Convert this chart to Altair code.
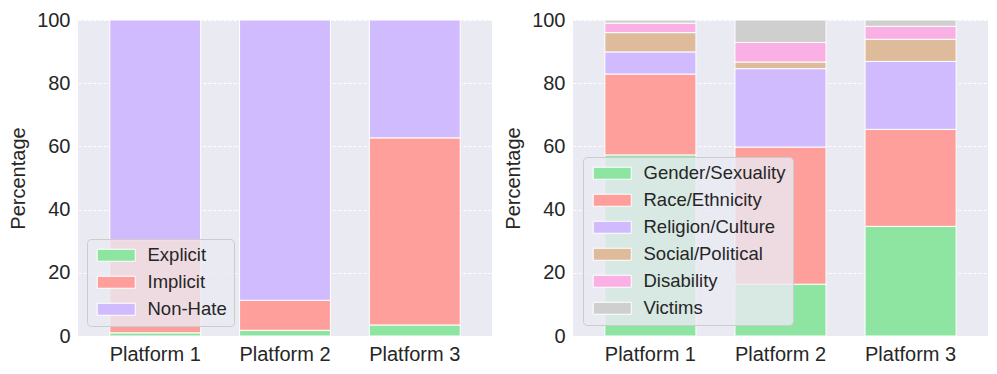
import altair as alt
import pandas as pd

platforms = ["Platform 1", "Platform 2", "Platform 3"]

# Left chart: hate type share
hate_types = ["Explicit", "Implicit", "Non-Hate"]
explicit = [1.0, 1.8, 3.5]
implicit = [29.5, 9.5, 59.2]
non_hate = [69.5, 88.7, 37.3]
hate_colors = ["#8de5a1", "#ff9f9b", "#d0bbff"]

# Right chart: target categories
targets = ["Gender/Sexuality", "Race/Ethnicity", "Religion/Culture",
           "Social/Political", "Disability", "Victims"]
gender = [57.3, 16.4, 34.7]
race = [25.6, 43.4, 30.7]
religion = [7.0, 24.8, 21.5]
social = [6.1, 2.1, 7.0]
disability = [3.0, 6.2, 4.1]
victims = [1.0, 7.1, 2.0]
target_colors = ["#8de5a1", "#ff9f9b", "#d0bbff", "#debb9b", "#fab0e4", "#cfcfcf"]

FONT = "Liberation Sans"
TXT = "#262626"

left_rows = []
for k, (name, vals) in enumerate(zip(hate_types, [explicit, implicit, non_hate])):
    for p, v in zip(platforms, vals):
        left_rows.append({"platform": p, "type": name, "value": v, "ord": k})
left_df = pd.DataFrame(left_rows)

right_rows = []
for k, (name, vals) in enumerate(zip(targets, [gender, race, religion, social, disability, victims])):
    for p, v in zip(platforms, vals):
        right_rows.append({"platform": p, "type": name, "value": v, "ord": k})
right_df = pd.DataFrame(right_rows)

# 38 x 12 px rectangle swatch with a nominal symbol size of 12 px
SYMBOL = "M-3.17,-1L3.17,-1L3.17,1L-3.17,1Z"


def panel(df, domain, colors, lx, ly, w):
    return alt.Chart(df).mark_bar(stroke="white", strokeWidth=1).encode(
        x=alt.X("platform:N", sort=platforms,
                scale=alt.Scale(paddingInner=0.3, paddingOuter=0.245),
                axis=alt.Axis(title=None, labelAngle=0, grid=False)),
        y=alt.Y("value:Q", stack="zero",
                scale=alt.Scale(domain=[0, 100], nice=False),
                axis=alt.Axis(title="Percentage", values=[0, 20, 40, 60, 80, 100])),
        color=alt.Color("type:N", sort=domain,
                        scale=alt.Scale(domain=domain, range=colors),
                        legend=alt.Legend(title=None, orient="none",
                                          legendX=lx, legendY=ly,
                                          symbolType=SYMBOL, symbolSize=144,
                                          symbolOffset=13,
                                          symbolStrokeColor="white",
                                          symbolStrokeWidth=1,
                                          labelOffset=22,
                                          rowPadding=8,
                                          fillColor="rgba(234,234,242,0.8)",
                                          strokeColor="#cccccc",
                                          cornerRadius=4, padding=7)),
        order=alt.Order("ord:Q", sort="ascending"),
    ).properties(width=w, height=316)


left = panel(left_df, hate_types, hate_colors, 9, 219, 414)
right = panel(right_df, targets, target_colors, 10, 137, 415)

chart = alt.hconcat(left, right, spacing=11).resolve_scale(
    color="independent"
).properties(
    padding={"left": 0, "top": 2, "right": 0, "bottom": 0}
).configure_view(
    fill="#eaeaf2", stroke=None
).configure_axis(
    domain=False, ticks=False, labelFont=FONT, titleFont=FONT,
    labelFontSize=20, titleFontSize=20, labelColor=TXT, titleColor=TXT,
    titleFontWeight="normal", gridColor="white", gridDash=[3, 2], gridWidth=1,
    labelPadding=8, titlePadding=8,
).configure_legend(
    labelFont=FONT, labelFontSize=18.5, labelColor=TXT,
)

chart.save("out.html", embed_options={"renderer": "svg", "actions": False})
